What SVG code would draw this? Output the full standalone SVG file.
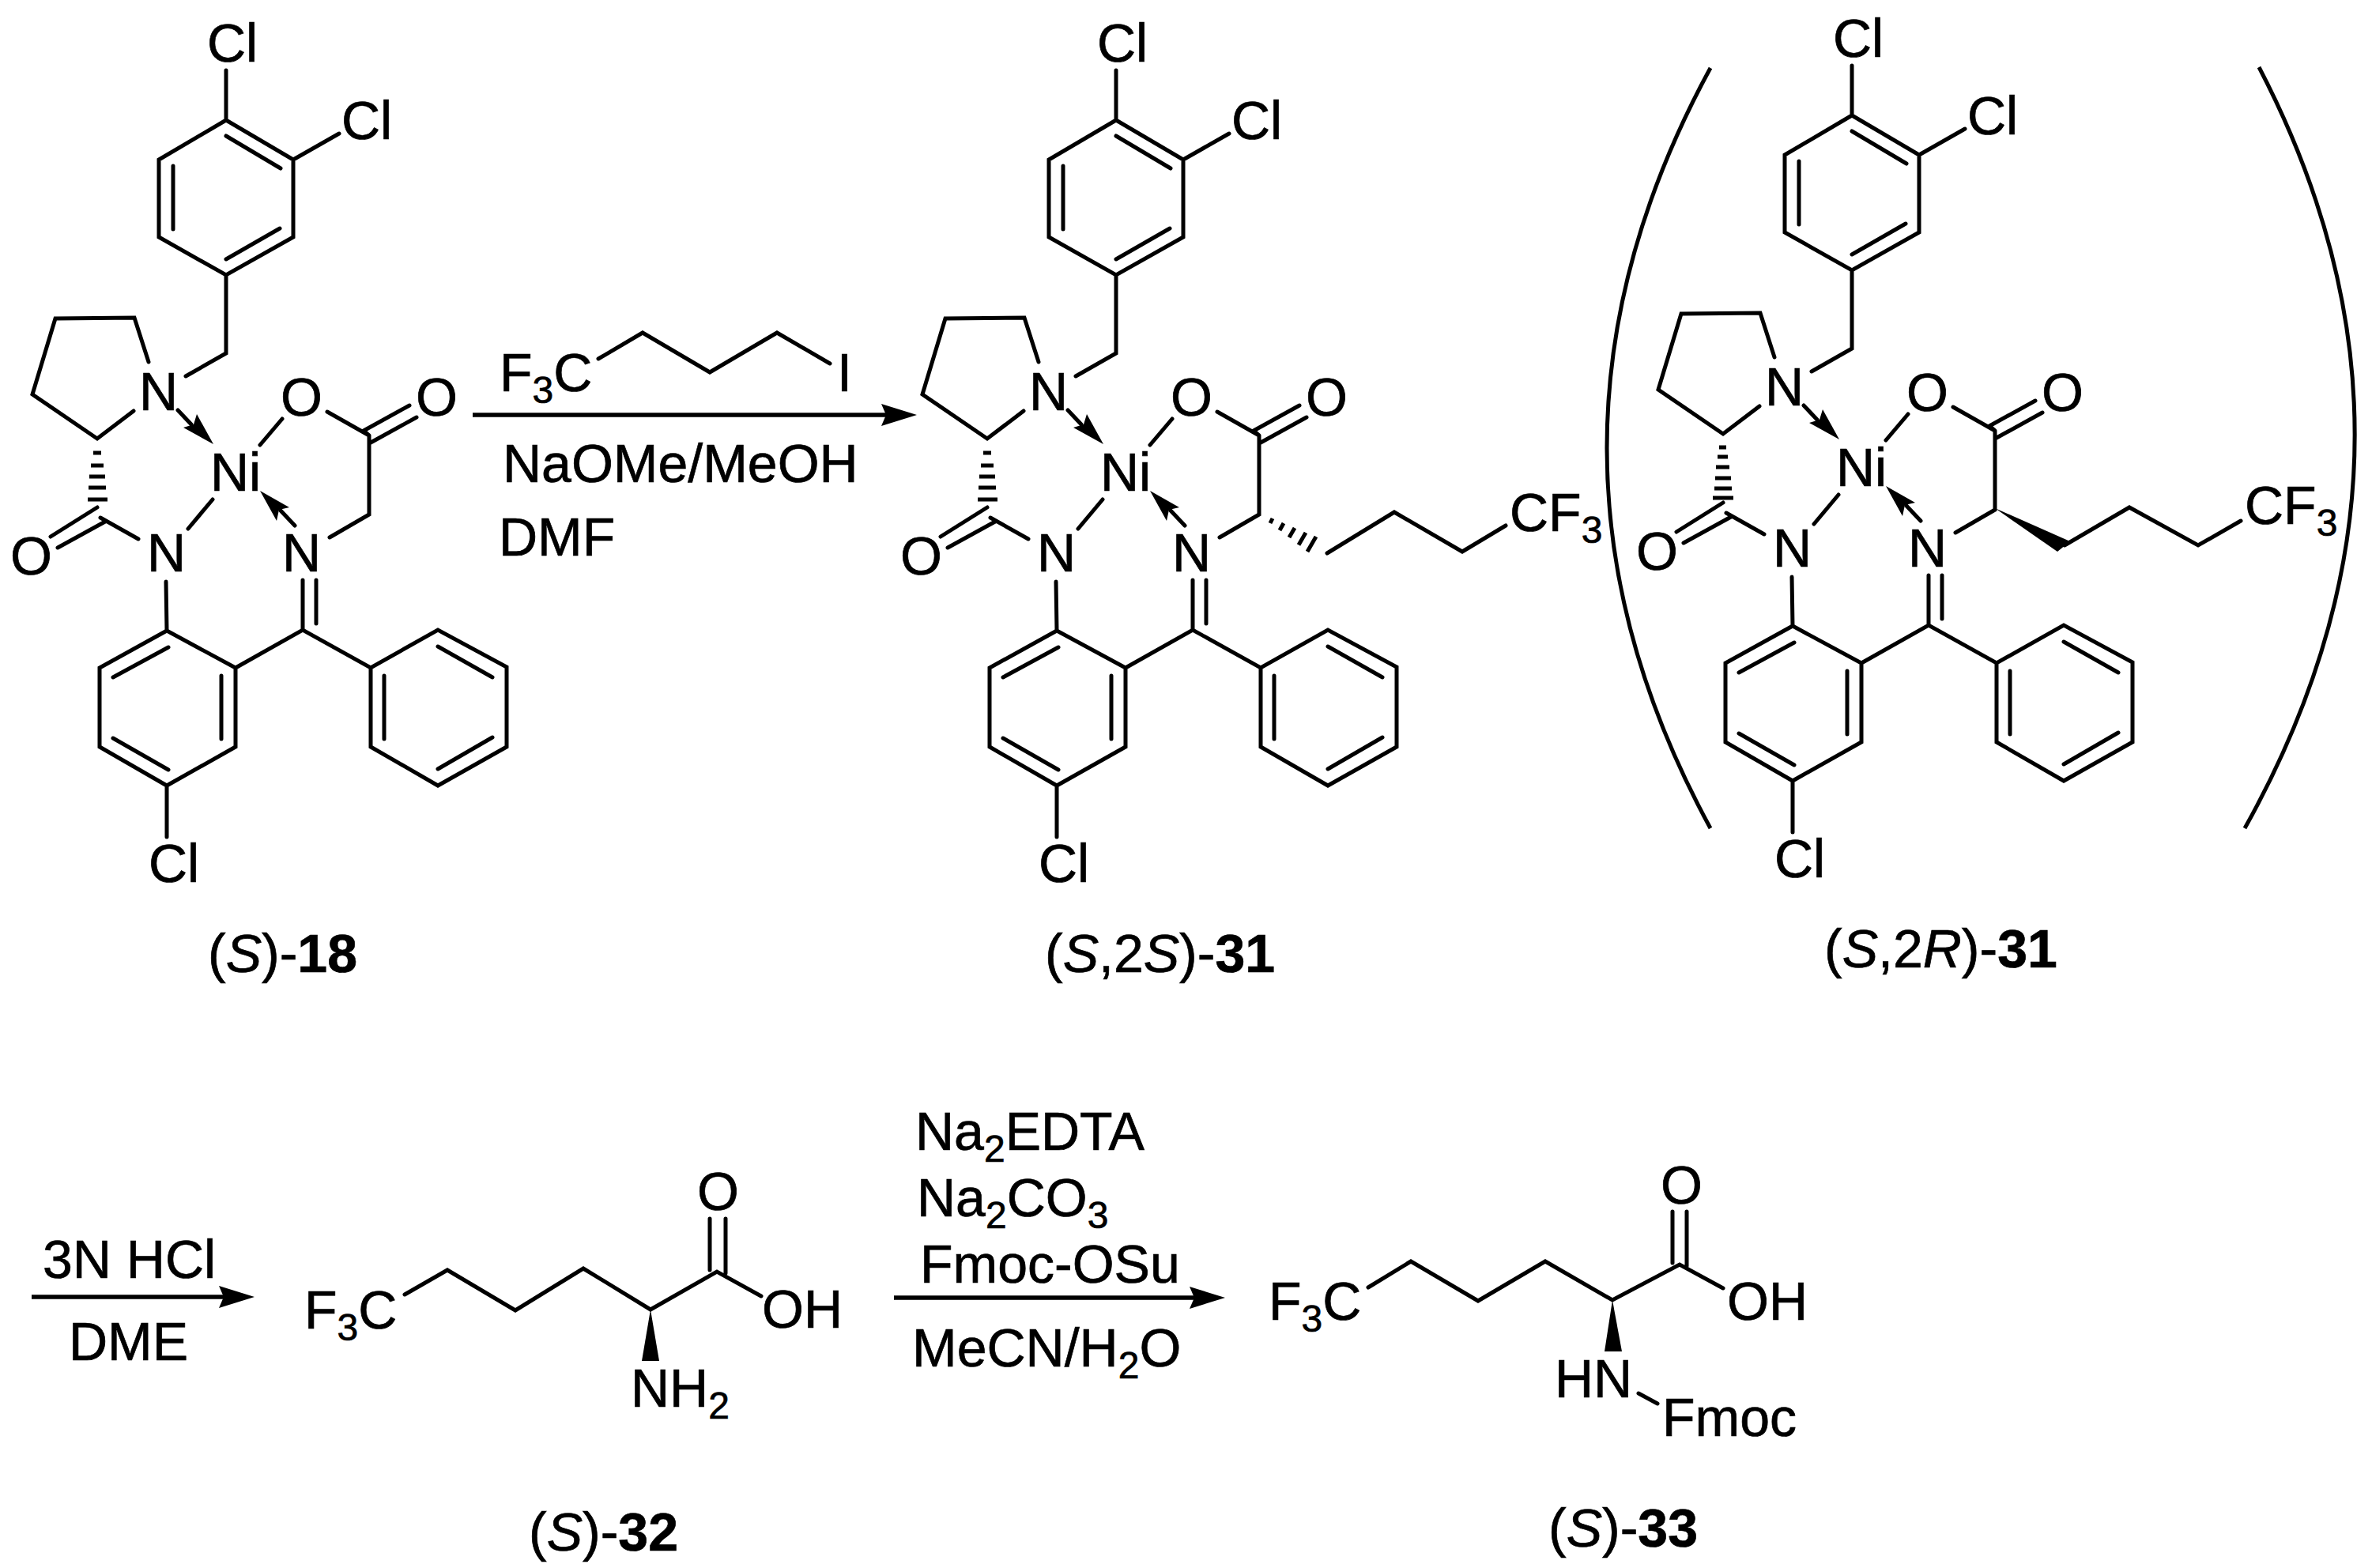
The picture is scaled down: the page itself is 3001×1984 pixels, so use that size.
<svg xmlns="http://www.w3.org/2000/svg" width="3001" height="1984" viewBox="0 0 3001 1984">
<style>
text{font-family:"Liberation Sans",Arial,sans-serif;font-size:68px;fill:#000;stroke:#000;stroke-width:0.7}
.lb{font-size:68px}
.s{font-size:48px}
.i{font-style:italic}
.b{font-weight:bold}
.bond{fill:none;stroke:#000;stroke-width:5;stroke-linecap:round;stroke-linejoin:miter}
.hash{fill:none;stroke:#000;stroke-width:5}
.solid{fill:#000;stroke:none}
.rx{fill:none;stroke:#000;stroke-width:5.5;marker-end:url(#head)}
.br{fill:none;stroke:#000;stroke-width:5}
</style>
<defs>
<marker id="head" markerUnits="userSpaceOnUse" markerWidth="50" markerHeight="30" refX="6" refY="14" orient="auto"><path d="M0 0L45 14L0 28L6 14Z" fill="#000"/></marker>
<path id="skeleton" class="bond" d="M286 89V152L371 202V300L286 348L201 300V202L286 152M286 172L355 213M219 210V290M286 328L354 289M371 202L429 169M286 348V447L235 476M188 458L170 402L70 403L41 499L123 555L169 520M225 519L242 537M357 530L329 563M414 521L467 551L460 545L518 513M469 560L527 528M467 551V651L417 680M269 632L238 669M127 655L175 682M123 642L64 679M133 660L73 693M210 736L211 798L298 845V945L211 994L126 945V845L211 798M143 857L213 819M280 855V935M143 934L213 974M298 845L383 797L469 845L554 797L641 844V945L554 994L469 945V845M554 818L623 857M486 855V935M554 973L623 933M383 734V797M400 734V789M211 994V1059M373 665L355 646"/>
<path id="heads" class="solid" d="M270 562L232 541L245 537L249 524ZM329 621L350 659L353 645L366 642Z"/>
<path id="hash5" class="hash" d="M118 573H128M115 589H131M113 603H133M112 617H134M111 632H136"/>
<path id="hash6" class="hash" d="M118 572H127M116 584H129M114 597H131M113 611H133M112 624H134M110 636H136"/>
</defs>

<g id="connectors">
<path class="rx" d="M598 525H1121"/>
<path class="rx" d="M40 1641H283"/>
<path class="rx" d="M1131 1642H1511"/>
</g>

<g id="mol-S-18">
<use href="#skeleton"/><use href="#heads"/><use href="#hash5"/>
<text x="262" y="78">Cl</text><text x="432" y="176">Cl</text><text x="176" y="519">N</text><text x="355" y="526">O</text><text x="526" y="526">O</text><text x="266" y="621">Ni</text><text x="13" y="727">O</text><text x="186" y="723">N</text><text x="357" y="723">N</text><text x="188" y="1116">Cl</text>
</g>
<g id="label-S-18"><text class="lb" x="263" y="1230">(<tspan class="i">S</tspan>)-<tspan class="b">18</tspan></text></g>

<g id="reagent-alkyl-iodide">
<path class="bond" d="M757 454L813 421L898 471L983 421L1050 460"/>
<text x="632" y="495">F<tspan class="s" dy="15">3</tspan><tspan dy="-15">C</tspan></text><text x="1059" y="495">I</text>
</g>
<g id="conditions-1"><text x="636" y="610">NaOMe/MeOH</text><text x="631" y="703">DMF</text></g>

<g id="mol-S-2S-31">
<g transform="translate(1126 0)"><use href="#skeleton"/><use href="#heads"/><use href="#hash5"/>
<text x="262" y="78">Cl</text><text x="432" y="176">Cl</text><text x="176" y="519">N</text><text x="355" y="526">O</text><text x="526" y="526">O</text><text x="266" y="621">Ni</text><text x="13" y="727">O</text><text x="186" y="723">N</text><text x="357" y="723">N</text><text x="188" y="1116">Cl</text></g>
<path class="hash" d="M1607 662L1610 656M1619 671L1624 662M1631 680L1638 668M1643 689.5L1652 674M1654 698L1665 679"/>
<path class="bond" d="M1679 700L1764 648L1850 698L1905 665"/>
<text x="1910" y="672">CF<tspan class="s" dy="15">3</tspan></text>
</g>
<g id="label-S-2S-31"><text class="lb" x="1322" y="1230">(<tspan class="i">S</tspan>,2<tspan class="i">S</tspan>)-<tspan class="b">31</tspan></text></g>

<g id="mol-S-2R-31">
<g transform="translate(2057 -6)"><use href="#skeleton"/><use href="#heads"/><use href="#hash6"/>
<text x="262" y="78">Cl</text><text x="432" y="176">Cl</text><text x="176" y="519">N</text><text x="355" y="526">O</text><text x="526" y="526">O</text><text x="266" y="621">Ni</text><text x="13" y="727">O</text><text x="186" y="723">N</text><text x="357" y="723">N</text><text x="188" y="1116">Cl</text></g>
<path class="solid" d="M2524 643L2619 685L2603 698Z"/>
<path class="bond" d="M2612 690L2694 642L2781 690L2835 659"/>
<text x="2840" y="663">CF<tspan class="s" dy="15">3</tspan></text>
<path class="br" d="M2164 86Q1902 567 2164 1048"/>
<path class="br" d="M2858 85Q3109 567 2840 1048"/>
</g>
<g id="label-S-2R-31"><text class="lb" x="2308" y="1224">(<tspan class="i">S</tspan>,2<tspan class="i">R</tspan>)-<tspan class="b">31</tspan></text></g>

<g id="conditions-2"><text x="54" y="1617">3N HCl</text><text x="87" y="1721">DME</text></g>

<g id="mol-S-32">
<path class="bond" d="M512 1638L566 1607L652 1658L738 1605L823 1657L907 1609L963 1640M898 1542V1607M918 1542V1611"/>
<path class="solid" d="M823 1657L834 1722H812Z"/>
<text x="385" y="1681">F<tspan class="s" dy="15">3</tspan><tspan dy="-15">C</tspan></text>
<text x="882" y="1531">O</text><text x="964" y="1680">OH</text>
<text x="798" y="1780">NH<tspan class="s" dy="15">2</tspan></text>
</g>
<g id="label-S-32"><text class="lb" x="669" y="1962">(<tspan class="i">S</tspan>)-<tspan class="b">32</tspan></text></g>

<g id="conditions-3">
<text x="1158" y="1455">Na<tspan class="s" dy="15">2</tspan><tspan dy="-15">EDTA</tspan></text>
<text x="1160" y="1539">Na<tspan class="s" dy="15">2</tspan><tspan dy="-15">CO</tspan><tspan class="s" dy="15">3</tspan></text>
<text x="1164" y="1623">Fmoc-OSu</text>
<text x="1154" y="1729">MeCN/H<tspan class="s" dy="15">2</tspan><tspan dy="-15">O</tspan></text>
</g>

<g id="mol-S-33">
<path class="bond" d="M1731 1629L1785 1596L1870 1646L1955 1596L2040 1645L2125 1600L2180 1630M2116 1533V1598M2134 1533V1602M2073 1763L2097 1776"/>
<path class="solid" d="M2040 1645L2052 1710H2030Z"/>
<text x="1605" y="1670">F<tspan class="s" dy="15">3</tspan><tspan dy="-15">C</tspan></text>
<text x="2101" y="1523">O</text><text x="2185" y="1670">OH</text>
<text x="1967" y="1768">HN</text><text x="2103" y="1817">Fmoc</text>
</g>
<g id="label-S-33"><text class="lb" x="1959" y="1957">(<tspan class="i">S</tspan>)-<tspan class="b">33</tspan></text></g>
</svg>
